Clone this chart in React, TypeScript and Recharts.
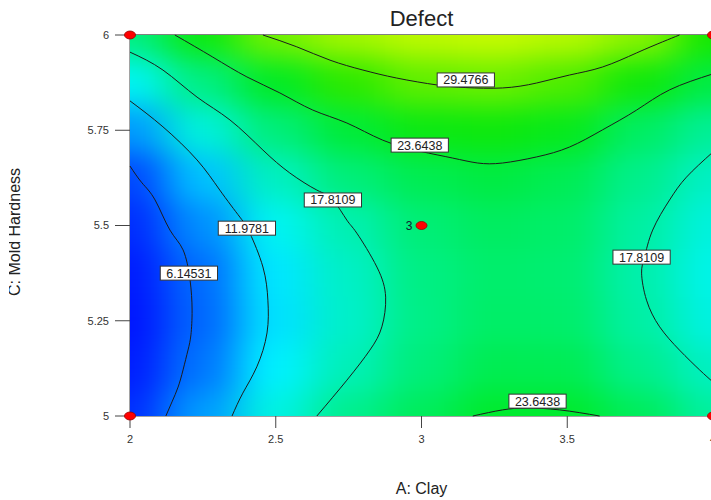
import { ComposedChart, XAxis, YAxis, Scatter, ReferenceLine } from "recharts"

const FONT = "Arial, 'Liberation Sans', sans-serif"

// frame
const W = 720
const H = 500
const M = { top: 35, right: 7, bottom: 54, left: 0 }
const Y_AXIS_W = 130
const X_AXIS_H = 30
const PLOT_L = M.left + Y_AXIS_W
const PLOT_W = W - PLOT_L - M.right
const PLOT_H = H - M.top - M.bottom - X_AXIS_H

const clayTicks = [2, 2.5, 3, 3.5, 4]
const hardTicks = [5, 5.25, 5.5, 5.75, 6]

// Defect response sampled on A: Clay x C: Mold Hardness
const clay = [2, 2.25, 2.5, 2.75, 3, 3.25, 3.5, 3.75, 4]
const hardness = [6, 5.875, 5.75, 5.625, 5.5, 5.375, 5.25, 5.125, 5]
const defect = [
  [20.1, 25.8, 30.2, 32.3, 33.5, 33.9, 33.2, 31.2, 27.0],
  [14.1, 20.0, 24.3, 27.8, 29.5, 29.9, 28.9, 26.2, 22.8],
  [9.3, 15.3, 20.4, 23.3, 25.6, 26.0, 24.9, 21.5, 19.0],
  [5.3, 11.0, 16.7, 20.4, 22.2, 22.9, 22.1, 19.5, 16.5],
  [3.3, 8.8, 14.2, 17.6, 20.6, 21.6, 21.2, 18.4, 15.2],
  [2.0, 7.3, 12.8, 16.4, 19.9, 21.1, 20.8, 17.9, 14.6],
  [1.6, 7.0, 12.5, 16.2, 19.8, 21.3, 21.1, 18.3, 15.0],
  [2.2, 7.7, 13.3, 17.2, 20.4, 22.2, 22.1, 19.5, 16.6],
  [3.5, 9.4, 15.0, 19.4, 21.8, 23.8, 23.8, 21.8, 18.6],
]

const levels = [6.14531, 11.9781, 17.8109, 23.6438, 29.4766]

type Pt = [number, number]

const c6: Pt[] = [
  [2.0, 5.656], [2.041, 5.612], [2.086, 5.567], [2.137, 5.488], [2.182, 5.436], [2.206, 5.357],
  [2.213, 5.278], [2.209, 5.213], [2.199, 5.173], [2.182, 5.121], [2.165, 5.076], [2.144, 5.037], [2.123, 5.0],
]
const c12: Pt[] = [
  [2.0, 5.827], [2.113, 5.759], [2.23, 5.672], [2.308, 5.593], [2.377, 5.522], [2.411, 5.48], [2.456, 5.391],
  [2.473, 5.304], [2.47, 5.218], [2.435, 5.129], [2.387, 5.06], [2.35, 5.0],
]
const c18left: Pt[] = [
  [2.0, 5.955], [2.113, 5.908], [2.23, 5.837], [2.343, 5.777], [2.456, 5.698], [2.548, 5.638], [2.641, 5.593],
  [2.696, 5.567], [2.744, 5.514], [2.778, 5.48], [2.847, 5.391], [2.877, 5.312], [2.864, 5.234], [2.823, 5.173],
  [2.744, 5.094], [2.641, 5.0],
]
const c24top: Pt[] = [
  [2.154, 6.0], [2.284, 5.942], [2.401, 5.89], [2.514, 5.848], [2.627, 5.803], [2.744, 5.769], [2.867, 5.724],
  [2.994, 5.695], [3.107, 5.677], [3.193, 5.664], [3.278, 5.664], [3.395, 5.68], [3.508, 5.706], [3.621, 5.751],
  [3.738, 5.803], [3.851, 5.856], [4.0, 5.898],
]
const c29: Pt[] = [
  [2.456, 6.0], [2.572, 5.969], [2.686, 5.934], [2.799, 5.908], [2.915, 5.887], [3.052, 5.869], [3.152, 5.862],
  [3.278, 5.861], [3.395, 5.874], [3.508, 5.895], [3.621, 5.916], [3.738, 5.953], [3.827, 5.982], [3.885, 6.0],
]
const c18right: Pt[] = [
  [4.0, 5.693], [3.909, 5.627], [3.851, 5.567], [3.793, 5.488], [3.765, 5.417], [3.755, 5.375], [3.772, 5.304],
  [3.817, 5.234], [3.885, 5.173], [3.954, 5.121], [4.0, 5.089],
]
const c24bottom: Pt[] = [
  [3.176, 5.0], [3.278, 5.016], [3.361, 5.021], [3.474, 5.016], [3.611, 5.0],
]

const contourLines = [c6, c12, c18left, c24top, c29, c18right, c24bottom]

const labelSpots = [
  { level: levels[0], x: 2.202, y: 5.375 },
  { level: levels[1], x: 2.401, y: 5.493 },
  { level: levels[2], x: 2.696, y: 5.567 },
  { level: levels[3], x: 2.994, y: 5.711 },
  { level: levels[4], x: 3.152, y: 5.882 },
  { level: levels[2], x: 3.755, y: 5.417 },
  { level: levels[3], x: 3.398, y: 5.039 },
]

const designPts = [
  { x: 2, y: 6, reps: 1 },
  { x: 2, y: 5, reps: 1 },
  { x: 4, y: 6, reps: 1 },
  { x: 4, y: 5, reps: 1 },
  { x: 3, y: 5.5, reps: 3 },
]

const heatData = hardness.flatMap((y, r) => clay.map((x, c) => ({ x, y, v: defect[r][c] })))

// blue -> cyan -> green -> yellow
const STOPS = [
  [0, 0, 0, 255],
  [6, 0, 80, 255],
  [12, 0, 215, 255],
  [13.5, 0, 245, 255],
  [16, 0, 240, 205],
  [18, 0, 240, 170],
  [21, 0, 238, 110],
  [24, 0, 235, 40],
  [27, 20, 232, 0],
  [30, 110, 240, 0],
  [34, 200, 250, 0],
]

function colorOf(v: number) {
  if (v <= STOPS[0][0]) return `rgb(${STOPS[0][1]},${STOPS[0][2]},${STOPS[0][3]})`
  for (let i = 1; i < STOPS.length; i++) {
    const a = STOPS[i - 1]
    const b = STOPS[i]
    if (v <= b[0]) {
      const t = (v - a[0]) / (b[0] - a[0])
      const ch = (k: number) => Math.round(a[k] + (b[k] - a[k]) * t)
      return `rgb(${ch(1)},${ch(2)},${ch(3)})`
    }
  }
  const l = STOPS[STOPS.length - 1]
  return `rgb(${l[1]},${l[2]},${l[3]})`
}

function HeatCell(props: any) {
  const { cx, cy, payload } = props
  const cw = PLOT_W / (clay.length - 1)
  const chh = PLOT_H / (hardness.length - 1)
  let x0 = cx - cw / 2
  let x1 = cx + cw / 2
  let y0 = cy - chh / 2
  let y1 = cy + chh / 2
  // pad the border cells so the blur doesn't fade at the frame
  if (payload.x === clay[0]) x0 -= cw
  if (payload.x === clay[clay.length - 1]) x1 += cw
  if (payload.y === hardness[0]) y0 -= chh
  if (payload.y === hardness[hardness.length - 1]) y1 += chh
  return <rect x={x0 - 0.5} y={y0 - 0.5} width={x1 - x0 + 1} height={y1 - y0 + 1} fill={colorOf(payload.v)} />
}

const NoDot = () => <g />

function ContourLabel(props: any) {
  const { cx, cy, payload } = props
  const txt = String(payload.level)
  const w = txt.length * 6.95 - 3.4 + 12
  return (
    <g>
      <rect x={cx - w / 2} y={cy - 7} width={w} height={14} fill="#fff" stroke="#333" strokeWidth={1} />
      <text x={cx} y={cy + 4.5} textAnchor="middle" fontSize={12.5} fontFamily={FONT} fill="#222">{txt}</text>
    </g>
  )
}

function DesignPoint(props: any) {
  const { cx, cy, payload } = props
  return (
    <g>
      <ellipse cx={cx} cy={cy} rx={5.5} ry={4} fill="#f00" stroke="#900" strokeWidth={0.8} />
      {payload.reps > 1 && (
        <text x={cx - 9} y={cy + 4} textAnchor="end" fontSize={12} fontFamily={FONT} fill="#123">{payload.reps}</text>
      )}
    </g>
  )
}

export default function App() {
  const tick = { fontSize: 11, fill: "#333", fontFamily: FONT }
  return (
    <div style={{ position: "absolute", left: 0, top: 0, width: 711, height: 500, overflow: "hidden", background: "#fff" }}>
      <style>{`.heat-layer { filter: url(#heatBlur); clip-path: url(#heatClip); }`}</style>
      <svg width={0} height={0} style={{ position: "absolute" }}>
        <defs>
          <filter id="heatBlur" x="-20%" y="-20%" width="140%" height="140%" colorInterpolationFilters="sRGB">
            <feGaussianBlur stdDeviation="21 14" />
          </filter>
          <clipPath id="heatClip">
            <rect x={PLOT_L} y={M.top} width={PLOT_W} height={PLOT_H} />
          </clipPath>
        </defs>
      </svg>
      <ComposedChart width={W} height={H} margin={M}>
        <Scatter className="heat-layer" data={heatData} shape={HeatCell} isAnimationActive={false} />
        <XAxis
          type="number"
          dataKey="x"
          domain={[2, 4]}
          ticks={clayTicks}
          interval={0}
          height={X_AXIS_H}
          tickSize={12}
          tickMargin={7}
          tick={tick}
          stroke="#444"
        />
        <YAxis
          type="number"
          dataKey="y"
          domain={[5, 6]}
          ticks={hardTicks}
          interval={0}
          width={Y_AXIS_W}
          tickSize={15}
          tickMargin={6}
          tick={tick}
          stroke="#444"
        />
        <ReferenceLine y={6} stroke="#000" strokeWidth={1} />
        <ReferenceLine x={4} stroke="#000" strokeWidth={1} />
        {contourLines.map((pts, i) => (
          <Scatter
            key={i}
            data={pts.map(([x, y]) => ({ x, y }))}
            shape={NoDot}
            line={{ stroke: "#1c1c1c", strokeWidth: 1 }}
            lineType="joint"
            lineJointType="natural"
            isAnimationActive={false}
          />
        ))}
        <Scatter data={labelSpots} shape={ContourLabel} isAnimationActive={false} />
        <Scatter data={designPts} shape={DesignPoint} isAnimationActive={false} />
      </ComposedChart>
      <svg width={711} height={500} style={{ position: "absolute", left: 0, top: 0, pointerEvents: "none" }}>
        <defs>
          <clipPath id="yTitleClip">
            <rect x={9} y={0} width={40} height={500} />
          </clipPath>
        </defs>
        <text x={PLOT_L + PLOT_W / 2} y={26} textAnchor="middle" fontSize={22} fontFamily={FONT} fill="#222">Defect</text>
        <text x={PLOT_L + PLOT_W / 2} y={494} textAnchor="middle" fontSize={16} fontFamily={FONT} fill="#222">A: Clay</text>
        <g clipPath="url(#yTitleClip)">
          <text transform="translate(20, 232) rotate(-90)" textAnchor="middle" fontSize={16} fontFamily={FONT} fill="#222">C: Mold Hardness</text>
        </g>
      </svg>
    </div>
  )
}
